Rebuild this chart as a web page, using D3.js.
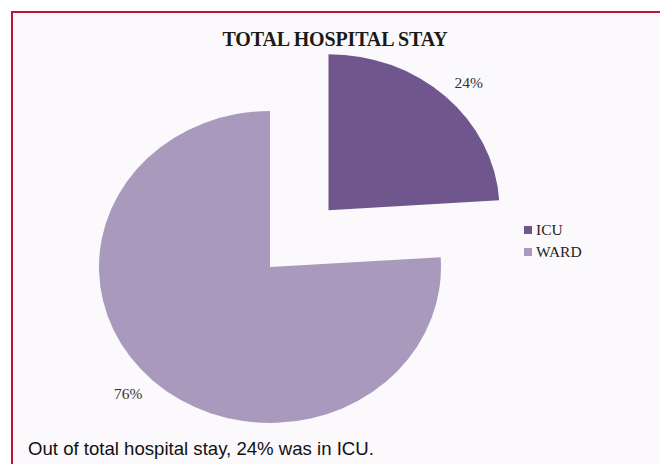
<!DOCTYPE html>
<html>
<head>
<meta charset="utf-8">
<script src="https://cdn.jsdelivr.net/npm/d3@7"></script>
<style>
  html, body { margin: 0; padding: 0; background: #ffffff; }
  svg { display: block; }
</style>
</head>
<body>
<script>
// Share of total hospital stay by location
const categories = ["ICU", "WARD"];
const shares = [24, 76];
const pctLabels = ["24%", "76%"];
const colors = ["#6f578e", "#a99abd"];

const W = 660, H = 464;
const svg = d3.select("body").append("svg").attr("width", W).attr("height", H);

// panel with left/top frame line
svg.append("rect").attr("x", 12).attr("y", 12).attr("width", W - 12).attr("height", H - 12)
  .attr("fill", "#fbf9fb");
svg.append("path").attr("d", `M12,${H} L12,12 L${W},12`)
  .attr("fill", "none").attr("stroke", "#c0143c").attr("stroke-width", 2);

svg.append("text").attr("x", 335).attr("y", 46)
  .attr("text-anchor", "middle")
  .attr("font-family", "'Liberation Serif', 'Times New Roman', serif")
  .attr("font-weight", "bold").attr("font-size", 20)
  .attr("letter-spacing", -0.15)
  .attr("fill", "#1a1a1a")
  .text("TOTAL HOSPITAL STAY");

// pie drawn in a circular frame and stretched horizontally
const r = 156, sx = 171 / 156, sy = 1;
const cx = 270, cy = 267;
const pie = d3.pie().sort(null).value(d => d)(shares);
const arc = d3.arc().innerRadius(0).outerRadius(r);
const explode = [78, 0];

const g = svg.append("g").attr("transform", `translate(${cx},${cy}) scale(${sx},${sy})`);
g.selectAll("path").data(pie).join("path")
  .attr("d", arc)
  .attr("fill", (d, i) => colors[i])
  .attr("transform", (d, i) => {
    const a = (d.startAngle + d.endAngle) / 2;
    return `translate(${explode[i] * Math.sin(a)},${-explode[i] * Math.cos(a)})`;
  });

// percentage labels outside the slices
const labelR = [258, 181];
const nudge = [[5, 9.5], [-6, 0.5]];
svg.selectAll("text.pct").data(pie).join("text").attr("class", "pct")
  .attr("x", (d, i) => {
    const a = (d.startAngle + d.endAngle) / 2;
    return cx + labelR[i] * Math.sin(a) * sx + nudge[i][0];
  })
  .attr("y", (d, i) => {
    const a = (d.startAngle + d.endAngle) / 2;
    return cy - labelR[i] * Math.cos(a) * sy + nudge[i][1];
  })
  .attr("text-anchor", "middle")
  .attr("font-family", "'Liberation Serif', 'Times New Roman', serif")
  .attr("font-size", 15.5).attr("fill", "#333")
  .text((d, i) => pctLabels[i]);

// legend
const lg = svg.append("g").attr("transform", "translate(524,226)");
categories.forEach((c, i) => {
  lg.append("rect").attr("x", 0).attr("y", i * 22).attr("width", 8).attr("height", 8)
    .attr("fill", colors[i]);
  lg.append("text").attr("x", 12).attr("y", i * 22 + 9)
    .attr("font-family", "'Liberation Serif', 'Times New Roman', serif")
    .attr("font-size", 15.5).attr("fill", "#222")
    .text(c);
});

svg.append("text").attr("x", 28).attr("y", 455)
  .attr("font-family", "'Liberation Sans', Arial, sans-serif")
  .attr("font-size", 18.6).attr("fill", "#111")
  .text("Out of total hospital stay, 24% was in ICU.");
</script>
</body>
</html>
